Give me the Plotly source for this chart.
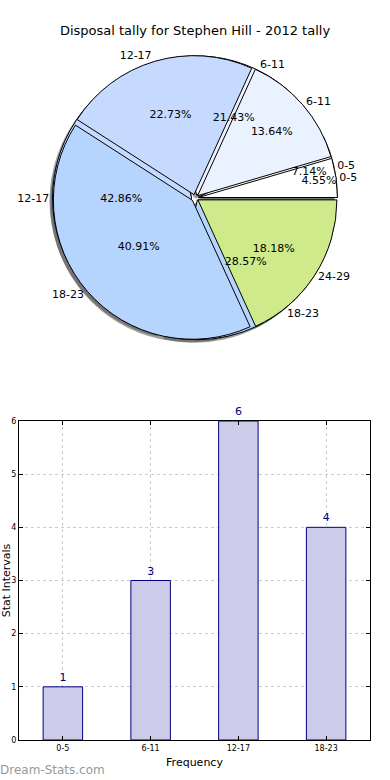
import plotly.graph_objects as go

# ---- data ----
title_text = "Disposal tally for Stephen Hill - 2012 tally"
pie_a_labels = ["0-5", "6-11", "12-17", "18-23", "24-29"]
pie_a_values = [1, 3, 5, 9, 4]
pie_b_labels = ["0-5", "6-11", "12-17", "18-23"]
pie_b_values = [1, 3, 6, 4]
slice_colors = {"0-5": "#ffffff", "6-11": "#eaf1ff", "12-17": "#c6d9fe",
                "18-23": "#b5d5ff", "24-29": "#cfea8a"}

bar_categories = ["0-5", "6-11", "12-17", "18-23"]
bar_values = [1, 3, 6, 4]

W, H = 390, 780
pull = 0.025
# pie geometry (pixels)
cx, cy, R = 195, 198, 139
half = R * (1 + pull)


def dom(dx=0, dy=0):
    return dict(x=[(cx - half + dx) / W, (cx + half + dx) / W],
                y=[(H - cy - half - dy) / H, (H - cy + half - dy) / H])


def common(values):
    # first slice starts at 3 o'clock and runs counter-clockwise
    rot = 90 - 360.0 * values[0] / sum(values)
    return dict(sort=False, direction="counterclockwise", rotation=rot,
                hoverinfo="skip", showlegend=False, automargin=False)


fig = go.Figure()

# shadows
for labels, values in [(pie_b_labels, pie_b_values), (pie_a_labels, pie_a_values)]:
    fig.add_trace(go.Pie(labels=labels, values=values, domain=dom(-3, 3),
                         pull=[pull] * len(values), textinfo="none",
                         marker=dict(colors=["rgba(80,80,80,0.55)"] * len(values),
                                     line=dict(width=0)), **common(values)))

# filled pies
for labels, values in [(pie_b_labels, pie_b_values), (pie_a_labels, pie_a_values)]:
    fig.add_trace(go.Pie(labels=labels, values=values, domain=dom(),
                         pull=[pull] * len(values), textinfo="none",
                         marker=dict(colors=[slice_colors[l] for l in labels],
                                     line=dict(color="#000000", width=1)), **common(values)))

# text overlays (percent inside, label outside)
for labels, values in [(pie_a_labels, pie_a_values), (pie_b_labels, pie_b_values)]:
    fig.add_trace(go.Pie(labels=labels, values=values, domain=dom(),
                         pull=[pull] * len(values), texttemplate="%{percent:.2%}",
                         textposition="inside", insidetextorientation="horizontal",
                         textfont=dict(size=11, color="#000000"),
                         marker=dict(colors=["rgba(0,0,0,0)"] * len(values),
                                     line=dict(width=0)), **common(values)))
    fig.add_trace(go.Pie(labels=labels, values=values, domain=dom(),
                         pull=[pull] * len(values), textinfo="label",
                         textposition="outside",
                         textfont=dict(size=11, color="#000000"),
                         marker=dict(colors=["rgba(0,0,0,0)"] * len(values),
                                     line=dict(width=0)), **common(values)))

# bar chart
fig.add_trace(go.Bar(x=bar_categories, y=bar_values, width=0.45,
                     marker=dict(color="#ccccea", line=dict(color="#000080", width=1)),
                     text=[str(v) for v in bar_values], textposition="outside",
                     textfont=dict(size=11, color="#000080"), cliponaxis=False,
                     hoverinfo="skip", showlegend=False,
                     xaxis="x", yaxis="y"))

axis_common = dict(showline=True, linecolor="#000000", linewidth=1, mirror="ticks",
                   ticks="inside", ticklen=4, tickcolor="#000000", automargin=False,
                   showgrid=True, gridcolor="#cccccc", griddash="dot", gridwidth=1,
                   zeroline=False, tickfont=dict(size=8, color="#000000"))

fig.update_layout(
    template="none",
    width=W, height=H,
    margin=dict(l=0, r=0, t=0, b=0, pad=0),
    paper_bgcolor="#ffffff", plot_bgcolor="#ffffff",
    font=dict(family="DejaVu Sans", color="#000000"),
    uniformtext=dict(mode="show", minsize=11),
    title=dict(text=title_text, x=0.5, xanchor="center", y=1 - 30 / H, yanchor="middle",
               font=dict(size=13, color="#000000"), automargin=False),
    xaxis=dict(domain=[19 / W, 370 / W], anchor="y", range=[-0.5, 3.5],
               title=dict(text="Frequency", font=dict(size=11), standoff=6),
               **axis_common),
    yaxis=dict(domain=[40 / H, 359 / H], anchor="x", range=[0, 6], dtick=1,
               title=dict(text="Stat Intervals", font=dict(size=11), standoff=4),
               **axis_common),
    annotations=[dict(text="Dream-Stats.com", x=0, y=0, xref="paper", yref="paper",
                      xanchor="left", yanchor="bottom", showarrow=False,
                      xshift=-2, yshift=1,
                      font=dict(size=12, color="#999999"))],
)

fig.write_html("out.html",
               config={"displayModeBar": False, "staticPlot": True},
               post_script="document.body.style.margin='0';document.body.style.padding='0';")
